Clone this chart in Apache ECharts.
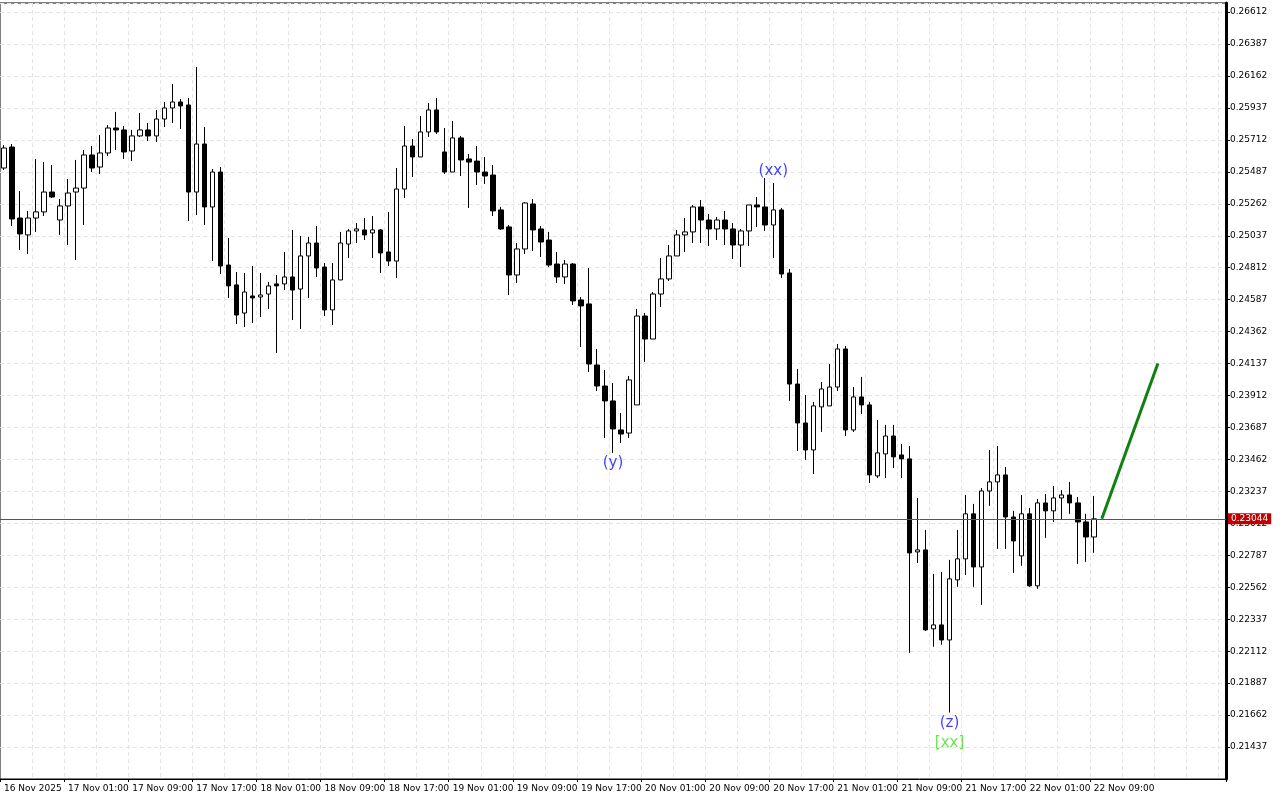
<!DOCTYPE html>
<html>
<head>
<meta charset="utf-8">
<script src="https://cdn.jsdelivr.net/npm/echarts@6/dist/echarts.min.js"></script>
<style>
  html, body { margin: 0; padding: 0; background: #fff; }
  #main { width: 1280px; height: 800px; }
</style>
</head>
<body>
<div id="main"></div>
<script>
// hourly candles, first bar 16 Nov 2025 17:00
var startTime = Date.UTC(2025, 10, 16, 17, 0);
var totalSlots = 153; // bars plus empty space on the right

// [open, close, low, high]
var candles = [
  [0.25514,0.25655,0.25500,0.25676],[0.25662,0.25155,0.25106,0.25683],[0.25162,0.25050,0.24937,0.25352],
  [0.25043,0.25162,0.24909,0.25212],[0.25162,0.25205,0.25064,0.25578],[0.25205,0.25345,0.25176,0.25556],
  [0.25345,0.25310,0.25303,0.25535],[0.25148,0.25247,0.25043,0.25296],[0.25247,0.25338,0.24972,0.25437],
  [0.25345,0.25373,0.24867,0.25571],[0.25373,0.25606,0.25113,0.25641],[0.25606,0.25514,0.25486,0.25669],
  [0.25521,0.25620,0.25472,0.25747],[0.25620,0.25796,0.25599,0.25817],[0.25796,0.25782,0.25641,0.25909],
  [0.25782,0.25627,0.25578,0.25810],[0.25634,0.25740,0.25563,0.25782],[0.25740,0.25782,0.25733,0.25901],
  [0.25782,0.25740,0.25704,0.25831],[0.25740,0.25859,0.25697,0.25923],[0.25859,0.25937,0.25803,0.25979],
  [0.25937,0.25979,0.25831,0.26106],[0.25979,0.25951,0.25789,0.26000],[0.25958,0.25345,0.25141,0.26007],
  [0.25345,0.25683,0.25183,0.26225],[0.25683,0.25240,0.25113,0.25803],[0.25240,0.25486,0.24859,0.25507],
  [0.25486,0.24824,0.24768,0.25521],[0.24831,0.24684,0.24599,0.25021],[0.24691,0.24479,0.24416,0.24782],
  [0.24493,0.24641,0.24395,0.24775],[0.24613,0.24599,0.24423,0.24824],[0.24606,0.24620,0.24465,0.24775],
  [0.24627,0.24684,0.24522,0.24712],[0.24698,0.24684,0.24212,0.24761],[0.24698,0.24747,0.24655,0.24923],
  [0.24747,0.24655,0.24444,0.25078],[0.24662,0.24895,0.24381,0.25036],[0.24895,0.24986,0.24599,0.25029],
  [0.24986,0.24810,0.24747,0.25106],[0.24817,0.24515,0.24472,0.24845],[0.24515,0.24726,0.24409,0.24845],
  [0.24726,0.24986,0.24726,0.25064],[0.24979,0.25071,0.24881,0.25085],[0.25071,0.25085,0.24986,0.25127],
  [0.25078,0.25043,0.25007,0.25162],[0.25057,0.25078,0.24881,0.25176],[0.25078,0.24916,0.24775,0.25085],
  [0.24923,0.24859,0.24824,0.25205],[0.24859,0.25366,0.24740,0.25514],[0.25366,0.25669,0.25303,0.25810],
  [0.25669,0.25592,0.25451,0.25718],[0.25592,0.25768,0.25592,0.25880],[0.25768,0.25923,0.25733,0.25972],
  [0.25923,0.25768,0.25754,0.26007],[0.25627,0.25486,0.25472,0.25796],[0.25486,0.25726,0.25486,0.25845],
  [0.25726,0.25571,0.25458,0.25740],[0.25578,0.25556,0.25233,0.25613],[0.25563,0.25486,0.25395,0.25669],
  [0.25486,0.25458,0.25402,0.25592],[0.25465,0.25212,0.25176,0.25535],[0.25219,0.25085,0.25078,0.25240],
  [0.25099,0.24761,0.24620,0.25113],[0.24761,0.24944,0.24705,0.24986],[0.24944,0.25268,0.24909,0.25275],
  [0.25261,0.25078,0.24930,0.25296],[0.25085,0.24993,0.24888,0.25106],[0.25007,0.24831,0.24817,0.25064],
  [0.24838,0.24747,0.24705,0.24923],[0.24747,0.24838,0.24698,0.24867],[0.24838,0.24578,0.24550,0.24845],
  [0.24585,0.24543,0.24254,0.24606],[0.24557,0.24134,0.24078,0.24810],[0.24127,0.23979,0.23944,0.24240],
  [0.23979,0.23874,0.23613,0.24092],[0.23874,0.23677,0.23508,0.24000],[0.23670,0.23641,0.23578,0.23789],
  [0.23648,0.24022,0.23613,0.24050],[0.23846,0.24472,0.23846,0.24522],[0.24472,0.24310,0.24149,0.24493],
  [0.24310,0.24627,0.24310,0.24641],[0.24627,0.24733,0.24536,0.24881],[0.24733,0.24895,0.24719,0.24972],
  [0.24895,0.25043,0.24895,0.25078],[0.25043,0.25064,0.24923,0.25162],[0.25064,0.25240,0.24986,0.25254],
  [0.25240,0.25148,0.24986,0.25289],[0.25148,0.25085,0.24965,0.25190],[0.25085,0.25148,0.25007,0.25169],
  [0.25148,0.25085,0.24972,0.25212],[0.25085,0.24972,0.24874,0.25127],[0.24972,0.25071,0.24817,0.25085],
  [0.25071,0.25254,0.24965,0.25254],[0.25254,0.25240,0.25099,0.25310],[0.25240,0.25113,0.25071,0.25444],
  [0.25113,0.25219,0.24881,0.25409],[0.25219,0.24768,0.24740,0.25233],[0.24775,0.23993,0.23874,0.24803],
  [0.23993,0.23719,0.23522,0.24099],[0.23719,0.23529,0.23459,0.23916],[0.23529,0.23839,0.23360,0.23867],
  [0.23832,0.23958,0.23656,0.24007],[0.23839,0.23972,0.23839,0.24134],[0.23972,0.24240,0.23944,0.24275],
  [0.24240,0.23670,0.23627,0.24261],[0.23670,0.23902,0.23656,0.23972],[0.23902,0.23846,0.23782,0.24043],
  [0.23846,0.23353,0.23296,0.23867],[0.23346,0.23508,0.23332,0.23740],[0.23501,0.23627,0.23332,0.23705],
  [0.23627,0.23480,0.23402,0.23705],[0.23494,0.23466,0.23332,0.23571],[0.23466,0.22804,0.22100,0.23557],
  [0.22811,0.22825,0.22733,0.23191],[0.22825,0.22262,0.22255,0.22966],[0.22269,0.22297,0.22143,0.22656],
  [0.22297,0.22191,0.22157,0.22670],[0.22191,0.22621,0.21680,0.22755],[0.22614,0.22762,0.22565,0.22966],
  [0.22762,0.23079,0.22649,0.23212],[0.23079,0.22705,0.22565,0.23149],[0.22705,0.23240,0.22438,0.23261],
  [0.23240,0.23304,0.23135,0.23529],[0.23304,0.23353,0.22832,0.23557],[0.23353,0.23057,0.22832,0.23409],
  [0.23057,0.22888,0.22663,0.23100],[0.22783,0.23079,0.22713,0.23212],[0.23079,0.22572,0.22565,0.23121],
  [0.22572,0.23156,0.22551,0.23184],[0.23156,0.23100,0.22910,0.23219],[0.23100,0.23191,0.23022,0.23275],
  [0.23191,0.23212,0.23036,0.23247],[0.23212,0.23156,0.23079,0.23304],[0.23156,0.23022,0.22727,0.23198],
  [0.23022,0.22916,0.22741,0.23079],[0.22916,0.23044,0.22804,0.23205]
];

var lastPrice = 0.23044;
// forecast arrow: [bar index, price]
var forecast = [[137, 0.23044], [144, 0.24137]];
// wave labels: [bar index, text, anchor ('high' or 'low'), color, pixel offset]
var waveLabels = [
  [96, '(xx)', 'high', '#1010ff', -12],
  [76, '(y)', 'low', '#1010ff', 10],
  [118, '(z)', 'low', '#1010ff', 11],
  [118, '[xx]', 'low', '#44dd22', 31]
];

var months = ['Jan','Feb','Mar','Apr','May','Jun','Jul','Aug','Sep','Oct','Nov','Dec'];
var lastBar = candles.length - 1;
var categories = [];
for (var i = 0; i < totalSlots; i++) {
  var d = new Date(startTime + i * 3600000);
  var hh = ('0' + d.getUTCHours()).slice(-2);
  if (i === 0) categories.push(d.getUTCDate() + ' ' + months[d.getUTCMonth()] + ' ' + d.getUTCFullYear());
  else categories.push(d.getUTCDate() + ' ' + months[d.getUTCMonth()] + ' ' + hh + ':00');
}

var labelSeries = waveLabels.map(function (w) {
  var c = candles[w[0]];
  var v = w[2] === 'high' ? c[3] : c[2];
  return {
    type: 'scatter', symbolSize: 0, silent: true, z: 10,
    data: [[w[0], v]],
    label: {
      show: true, formatter: w[1], color: w[3], fontSize: 15,
      fontFamily: 'DejaVu Sans', position: 'inside', offset: [0, w[4]]
    }
  };
});

var chart = echarts.init(document.getElementById('main'));
chart.setOption({
  animation: false,
  backgroundColor: '#fff',
  grid: { left: -1, right: 54, top: 3, bottom: 21, show: true, borderColor: '#000', borderWidth: 1 },
  xAxis: {
    type: 'category', data: categories, boundaryGap: true,
    axisLine: { lineStyle: { color: '#000' } },
    axisTick: { show: true, interval: function (idx) { return idx % 8 === 0 && idx <= lastBar; }, length: 3, lineStyle: { color: '#000' } },
    axisLabel: {
      interval: function (idx) { return idx % 8 === 0 && idx <= lastBar; },
      color: '#000', fontSize: 9, fontFamily: 'DejaVu Sans', align: 'left', margin: 5
    },
    splitLine: {
      show: true, interval: function (idx) { return idx % 4 === 0 && idx > 0; },
      lineStyle: { color: '#e4e4e4', type: [4, 3] }
    }
  },
  yAxis: {
    type: 'value', position: 'right', min: 0.21212, max: 0.26676, interval: 0.00225,
    axisLine: { show: true, lineStyle: { color: '#000', width: 3 } },
    axisTick: { show: true, length: 4, lineStyle: { color: '#000' } },
    axisLabel: {
      showMinLabel: false, showMaxLabel: false, color: '#000', fontSize: 9, fontFamily: 'DejaVu Sans', margin: 4,
      formatter: function (v) { return v.toFixed(5); }
    },
    splitLine: { show: true, lineStyle: { color: '#e4e4e4', type: [4, 3] } }
  },
  series: [
    {
      type: 'candlestick', data: candles, barWidth: 5,
      itemStyle: { color: '#fff', color0: '#000', borderColor: '#000', borderColor0: '#000', borderWidth: 1 }
    },
    {
      type: 'line', data: forecast, symbol: 'none', silent: true,
      lineStyle: { color: '#108010', width: 3 },
      markLine: {
        silent: true, symbol: 'none', precision: 5,
        data: [{ yAxis: lastPrice }],
        lineStyle: { color: '#555', width: 1, type: 'solid' },
        label: {
          position: 'end', formatter: lastPrice.toFixed(5), color: '#fff', backgroundColor: '#c00000',
          fontSize: 9, fontFamily: 'DejaVu Sans', padding: [1, 3], distance: 2
        }
      }
    }
  ].concat(labelSeries)
});
</script>
</body>
</html>
